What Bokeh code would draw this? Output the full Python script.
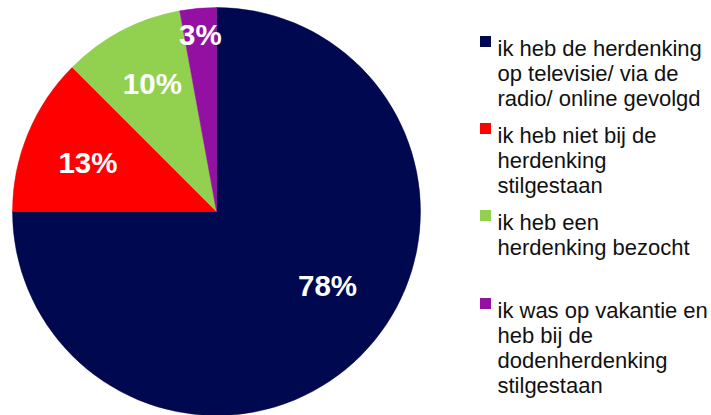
import math
from bokeh.plotting import figure
from bokeh.models import Range1d, ColumnDataSource
from bokeh.embed import file_html
from bokeh.resources import INLINE
from bokeh.core.properties import value

# ---- data ----
categories = [
    "ik heb de herdenking op televisie/ via de radio/ online gevolgd",
    "ik heb niet bij de herdenking stilgestaan",
    "ik heb een herdenking bezocht",
    "ik was op vakantie en heb bij de dodenherdenking stilgestaan",
]
legend_lines = [
    ["ik heb de herdenking", "op televisie/ via de", "radio/ online gevolgd"],
    ["ik heb niet bij de", "herdenking", "stilgestaan"],
    ["ik heb een", "herdenking bezocht"],
    ["ik was op vakantie en", "heb bij de", "dodenherdenking", "stilgestaan"],
]
percentages = [78, 13, 10, 3]
labels = ["78%", "13%", "10%", "3%"]
colors = ["#00084F", "#FF0000", "#92D050", "#9410A2"]

# ---- layout (styling, not data) ----
W, H = 711, 415
cx, cy, R = 216, H - 211, 204
label_rfrac = [0.655, 0.675, 0.70, 0.87]
label_angle_offset = [11.2, 1.5, -1.0, 0.0]

total = float(sum(percentages))
starts, ends, mids = [0] * 4, [0] * 4, [0] * 4
a = 90.0
for i in reversed(range(len(percentages))):
    span = percentages[i] / total * 360.0
    starts[i] = a
    ends[i] = a + span
    mids[i] = a + span / 2
    a += span

p = figure(width=W, height=H, x_range=Range1d(0, W), y_range=Range1d(0, H),
           output_backend="svg", toolbar_location=None, min_border=0)
p.axis.visible = False
p.grid.visible = False
p.outline_line_color = None
p.background_fill_color = "white"
p.border_fill_color = "white"

src = ColumnDataSource(dict(
    start=[math.radians(s) for s in starts],
    end=[math.radians(e) for e in ends],
    color=colors,
))
p.wedge(x=cx, y=cy, radius=R, start_angle="start", end_angle="end",
        fill_color="color", line_color="color", line_width=0.5, source=src)

lx, ly = [], []
for i in range(len(percentages)):
    ang = math.radians(mids[i] + label_angle_offset[i])
    r = R * label_rfrac[i]
    lx.append(cx + r * math.cos(ang))
    ly.append(cy + r * math.sin(ang))
p.text(x=lx, y=ly, text=labels, text_color="white",
       text_font=value("Liberation Sans"), text_font_style="bold",
       text_font_size="29.5px", text_align="center", text_baseline="middle")

# ---- legend ----
leg_x_text = 497
leg_x_sq = 485
first_baseline = [48, 135, 222, 310]  # from top, per entry
line_h = 25
tx, ty, tt = [], [], []
sqx, sqy = [], []
for i, lines in enumerate(legend_lines):
    b0 = first_baseline[i]
    sqx.append(leg_x_sq)
    sqy.append(H - (b0 - 7))
    for j, ln in enumerate(lines):
        tx.append(leg_x_text)
        ty.append(H - (b0 + j * line_h))
        tt.append(ln)
p.rect(x=sqx, y=sqy, width=11, height=11, fill_color=colors, line_color=None)
p.text(x=tx, y=ty, text=tt, text_color="#111111",
       text_font=value("Liberation Sans"), text_font_size="22px",
       text_align="left", text_baseline="alphabetic")

open("out.html", "w").write(file_html(p, INLINE))
